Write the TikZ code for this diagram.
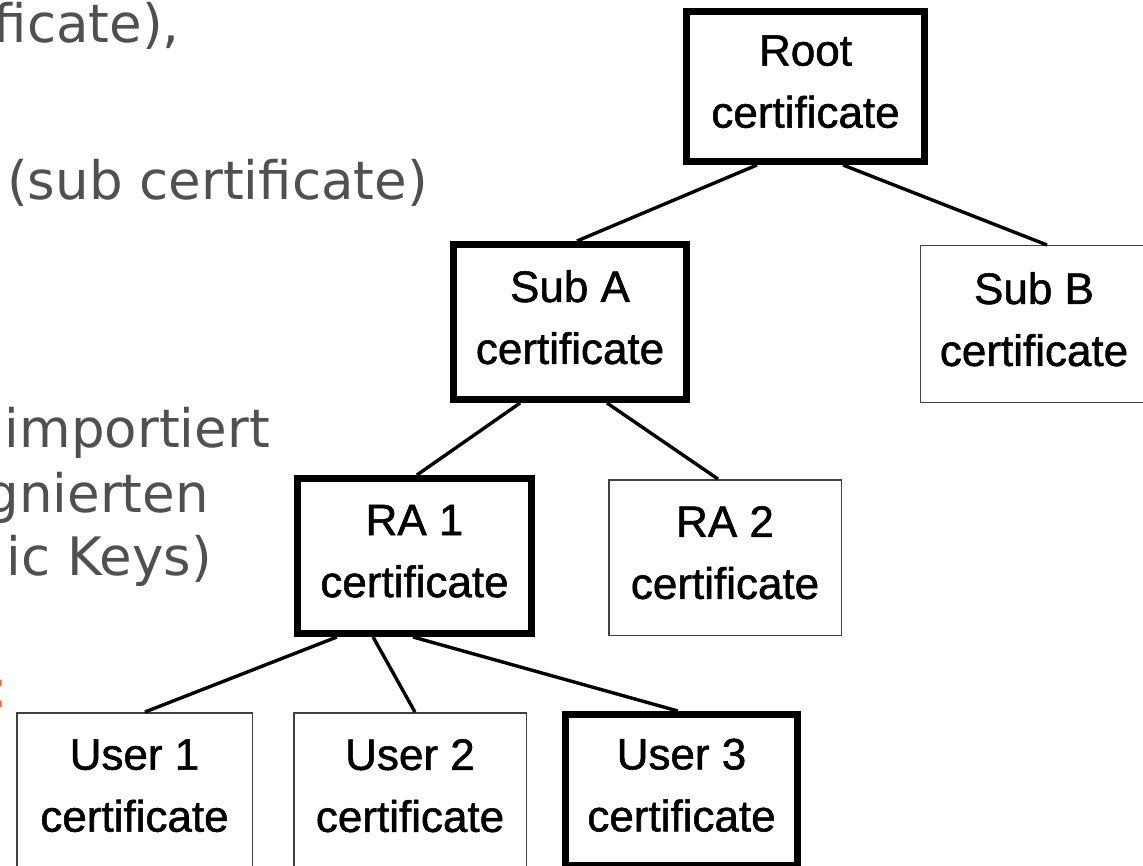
\documentclass[tikz,border=0pt]{standalone}
\usepackage{fontspec}
\setmainfont{Liberation Sans}
\newfontfamily\slidefont{DejaVu Sans}
\newfontfamily\boxfont[FakeBold=1.2]{Liberation Sans}
\usetikzlibrary{calc}
\definecolor{slidegray}{RGB}{80,80,80}
\definecolor{slideorange}{RGB}{255,102,51}
\tikzset{
  cert/.style={rectangle, align=center, inner sep=0pt,
    font=\boxfont\fontsize{44}{62}\selectfont},
  trusted/.style={cert, draw=black, line width=7pt},
  plain/.style={cert, draw=black!75, line width=1.5pt},
  link/.style={draw=black, line width=3.4pt},
  bullet/.style={text=slidegray, inner sep=0pt,
    font=\slidefont\fontsize{53}{64}\selectfont},
}
\newcommand\certlabel[1]{\raisebox{10pt}{#1}\\\raisebox{10pt}{certificate}}
\begin{document}
\begin{tikzpicture}[x=1pt, y=-1pt]
\useasboundingbox (0,0) rectangle (1143,866);
\begin{scope}
\clip (0,0) rectangle (1143,866);
\fill[white] (0,0) rectangle (1143,866);

% slide text running in from the left
\node[bullet, anchor=base east] (t1) at (180,43) {ficate),};
\node[bullet, anchor=base east] (t2) at (428,200) {(sub certificate)};
\node[bullet, anchor=base east] (t3) at (270,447) {importiert};
\node[bullet, anchor=base east] (t4) at (209,512) {gnierten};
\node[bullet, anchor=base east] (t5) at (212,575) {ic Keys)};
\node[bullet, text=slideorange, anchor=base east] (t6) at (9,707) {:};

% certificate hierarchy
\node[trusted, minimum width=238pt, minimum height=150pt] (root) at (805.5,86.5)
  {\certlabel{Root}};
\node[trusted, minimum width=233pt, minimum height=155pt] (suba) at (570,322)
  {\certlabel{Sub A}};
\node[plain, minimum width=227pt, minimum height=156.5pt] (subb) at (1034,324)
  {\certlabel{Sub B}};
\node[trusted, minimum width=234pt, minimum height=155pt] (ra1) at (414.5,556)
  {\certlabel{RA 1}};
\node[plain, minimum width=232.5pt, minimum height=155.5pt] (ra2) at (725,557.5)
  {\certlabel{RA 2}};
\node[plain, minimum width=235.5pt, minimum height=155.5pt] (user1) at (134.5,790.5)
  {\certlabel{User 1}};
\node[plain, minimum width=232.5pt, minimum height=155.5pt] (user2) at (410,790.5)
  {\certlabel{User 2}};
\node[trusted, minimum width=232pt, minimum height=151pt] (user3) at (681.5,790)
  {\certlabel{User 3}};

% signing relations
\draw[link] ($(root.south west)!.302!(root.south east)$) -- ($(suba.north west)!.529!(suba.north east)$);
\draw[link] ($(root.south west)!.653!(root.south east)$) -- ($(subb.north west)!.557!(subb.north east)$);
\draw[link] ($(suba.south west)!.292!(suba.south east)$) -- ($(ra1.north west)!.51!(ra1.north east)$);
\draw[link] ($(suba.south west)!.654!(suba.south east)$) -- ($(ra2.north west)!.47!(ra2.north east)$);
\draw[link] ($(ra1.south west)!.178!(ra1.south east)$) -- ($(user1.north west)!.544!(user1.north east)$);
\draw[link] ($(ra1.south west)!.328!(ra1.south east)$) -- ($(user2.north west)!.521!(user2.north east)$);
\draw[link] ($(ra1.south west)!.494!(ra1.south east)$) -- ($(user3.north west)!.485!(user3.north east)$);
\end{scope}
\end{tikzpicture}
\end{document}
